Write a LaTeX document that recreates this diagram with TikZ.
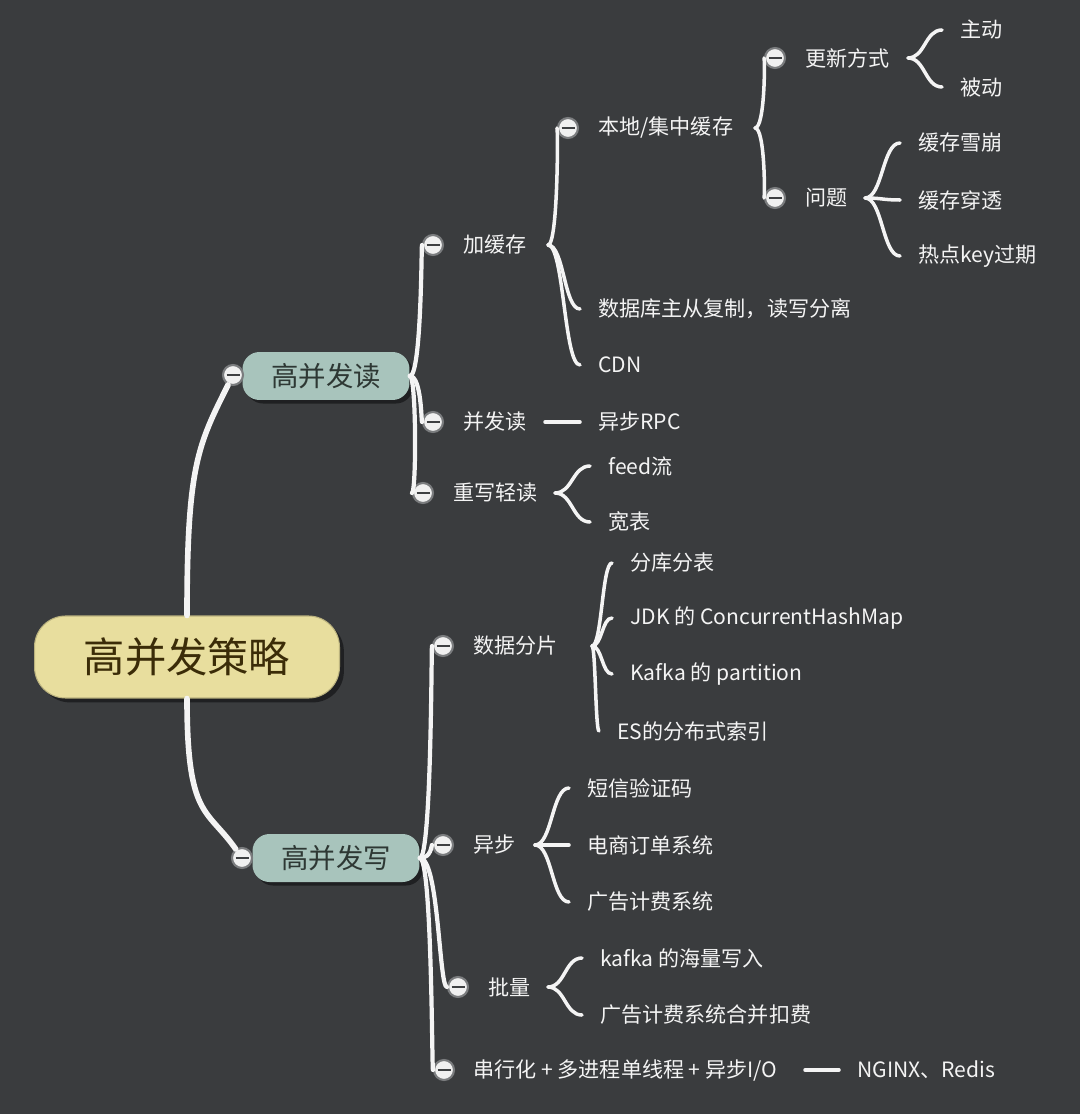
\documentclass[tikz,border=0pt]{standalone}
\usepackage{fontspec}
\setmainfont{Noto Sans CJK SC}
\usetikzlibrary{calc,shadows}
\definecolor{paper}{HTML}{3A3C3E}
\definecolor{ink}{HTML}{F4F4F4}
\definecolor{rootfill}{HTML}{E8DE9E}
\definecolor{rootink}{HTML}{3B2C08}
\definecolor{topicfill}{HTML}{A8C4BC}
\definecolor{topicink}{HTML}{2E3834}
\definecolor{knobrim}{HTML}{7A7C7E}
\definecolor{knobbar}{HTML}{3E4042}
% S-shaped connector from a junction to a child
\newcommand\twig[3][link]{\draw[#1] (#2) .. controls ($(#2)!.5!(#2-|#3)$) and ($(#3)!.5!(#3-|#2)$) .. (#3);}
\begin{document}
\begin{tikzpicture}[x=0.02cm, y=-0.02cm,
  root/.style={draw=rootfill!80!black, line width=0.6pt, fill=rootfill, text=rootink,
    rounded corners=0.62cm, minimum width=6.1cm, minimum height=1.64cm,
    font=\fontsize{23.5}{26}\selectfont,
    drop shadow={shadow xshift=2.5pt, shadow yshift=-2.5pt, fill=black, opacity=0.45}},
  topic/.style={fill=topicfill, text=topicink, rounded corners=0.34cm,
    minimum width=3.34cm, minimum height=0.96cm,
    font=\fontsize{15.6}{18}\selectfont,
    drop shadow={shadow xshift=2pt, shadow yshift=-2pt, fill=black, opacity=0.45}},
  item/.style={anchor=west, inner xsep=0.36cm, inner ysep=0pt, text=ink,
    font=\fontsize{12}{14}\selectfont},
  knob/.style={circle, draw=knobrim, fill=white!94!black, line width=1.2pt,
    minimum size=0.4cm, inner sep=0pt,
    path picture={\draw[knobbar, line width=1.5pt]
      ([xshift=-0.13cm]path picture bounding box.center) --
      ([xshift=0.13cm]path picture bounding box.center);}},
  link/.style={draw=ink, line width=2pt, line cap=round},
  limb/.style={link, line width=2.4pt},
  trunk/.style={link, line width=3.2pt}]

% Background
\fill[paper] (0,0) rectangle (1080,1114);
\useasboundingbox (0,0) rectangle (1080,1114);

% Centre and main topics
\node[root] (root) at (187,657) {高并发策略};
\node[topic] (read) at (326,376) {高并发读};
\node[topic] (write) at (336,858) {高并发写};

% Read branch
\node[item] (cache) at (445,245) {加缓存};
\node[item] (conc) at (445,422) {并发读};
\node[item] (light) at (435,493) {重写轻读};
\node[item] (local) at (580,128) {本地/集中缓存};
\node[item] (replica) at (580,309) {数据库主从复制，读写分离};
\node[item] (cdn) at (580,365) {CDN};
\node[item] (update) at (787,58) {更新方式};
\node[item] (issue) at (787,198) {问题};
\node[item] (active) at (942,30) {主动};
\node[item] (passive) at (942,87) {被动};
\node[item] (avalanche) at (900,143) {缓存雪崩};
\node[item] (pierce) at (900,200) {缓存穿透};
\node[item] (hotkey) at (900,256) {热点key过期};
\node[item] (rpc) at (580,422) {异步RPC};
\node[item] (feed) at (590,466) {feed流};
\node[item] (wide) at (590,522) {宽表};

% Write branch
\node[item] (shard) at (455,646) {数据分片};
\node[item] (async) at (455,845) {异步};
\node[item] (batch) at (470,987) {批量};
\node[item] (serial) at (455,1070) {串行化 + 多进程单线程 + 异步I/O};
\node[item] (split) at (612,563) {分库分表};
\node[item] (jdk) at (612,618) {JDK 的 ConcurrentHashMap};
\node[item] (kafka) at (612,674) {Kafka 的 partition};
\node[item] (es) at (599,731) {ES的分布式索引};
\node[item] (sms) at (569,788) {短信验证码};
\node[item] (order) at (569,845) {电商订单系统};
\node[item] (ads) at (569,902) {广告计费系统};
\node[item] (mass) at (582,958) {kafka 的海量写入};
\node[item] (merge) at (582,1015) {广告计费系统合并扣费};
\node[item] (nginx) at (839,1070) {NGINX、Redis};

% Collapse knobs
\node[knob] (kRead) at (233,375) {};
\node[knob] (kWrite) at (242,858) {};
\node[knob] (kCache) at (433,245) {};
\node[knob] (kConc) at (433,422) {};
\node[knob] (kLight) at (423,493) {};
\node[knob] (kLocal) at (568,128) {};
\node[knob] (kUpdate) at (775,58) {};
\node[knob] (kIssue) at (775,198) {};
\node[knob] (kShard) at (443,646) {};
\node[knob] (kAsync) at (443,845) {};
\node[knob] (kBatch) at (458,987) {};
\node[knob] (kSerial) at (444,1070) {};

% Junctions
\coordinate (jCache) at (548,245);
\coordinate (jLocal) at (755,128);
\coordinate (jUpdate) at (908,58);
\coordinate (jIssue) at (865,198);
\coordinate (jConc) at (545,422);
\coordinate (jLight) at (555,493);
\coordinate (jShard) at (592,646);
\coordinate (jAsync) at (535,845);
\coordinate (jBatch) at (548,987);
\coordinate (jSerial) at (805,1070);

% Root links
\draw[trunk] (root.north) .. controls +(0,-150) and +(-35,70) .. (kRead);
\draw[trunk] (root.south) .. controls +(0,120) and +(-35,-50) .. (kWrite);

% Topic links
\foreach \k in {kCache,kConc,kLight} {\twig[limb]{read.east}{\k}}
\foreach \k in {kShard,kAsync,kBatch,kSerial} {\twig[limb]{write.east}{\k}}

% Braces
\twig{jCache}{kLocal}
\twig{jCache}{replica.west}
\twig{jCache}{cdn.west}
\twig{jLocal}{kUpdate}
\twig{jLocal}{kIssue}
\foreach \c in {active,passive} {\twig{jUpdate}{\c.west}}
\foreach \c in {avalanche,pierce,hotkey} {\twig{jIssue}{\c.west}}
\draw[link] (jConc) -- (rpc.west);
\foreach \c in {feed,wide} {\twig{jLight}{\c.west}}
\foreach \c in {split,jdk,kafka,es} {\twig{jShard}{\c.west}}
\foreach \c in {sms,order,ads} {\twig{jAsync}{\c.west}}
\foreach \c in {mass,merge} {\twig{jBatch}{\c.west}}
\draw[link] (jSerial) -- (nginx.west);
\end{tikzpicture}
\end{document}
